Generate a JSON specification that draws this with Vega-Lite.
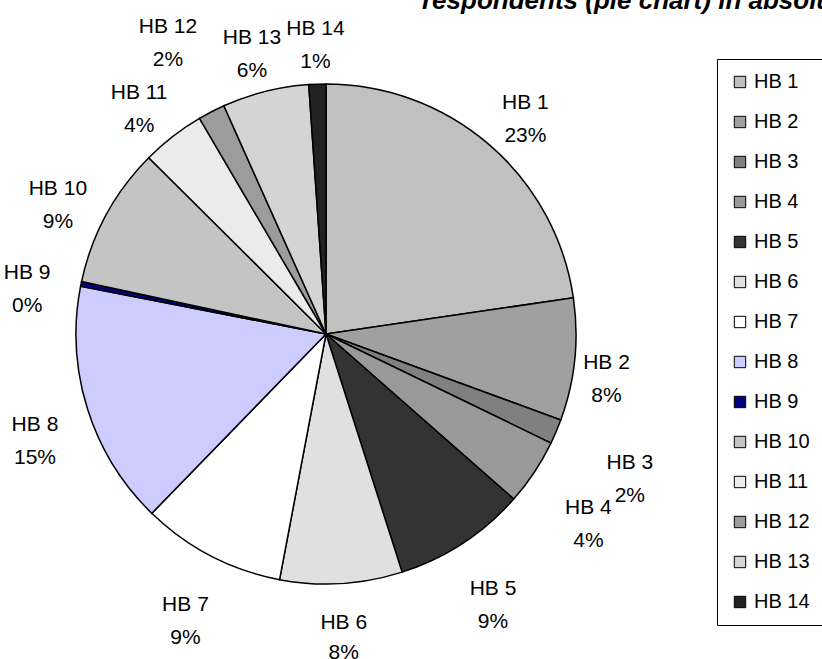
{
  "$schema": "https://vega.github.io/schema/vega-lite/v6.json",
  "autosize": {"type": "none"},
  "width": 652,
  "height": 650,
  "padding": {"left": 0, "top": 9, "right": 170, "bottom": 0},
  "background": "white",
  "title": {
    "text": "respondents (pie chart) in absolute numbers",
    "anchor": "start",
    "frame": "group",
    "dx": 422,
    "dy": 57,
    "offset": 0,
    "baseline": "alphabetic",
    "font": "Liberation Sans",
    "fontSize": 26,
    "fontStyle": "italic",
    "fontWeight": "bold",
    "color": "black",
    "limit": 1000
  },
  "data": {
    "values": [
      {"i": 1, "cat": "HB 1", "v": 22.7, "label": "HB 1\n23%"},
      {"i": 2, "cat": "HB 2", "v": 7.9, "label": "HB 2\n8%"},
      {"i": 3, "cat": "HB 3", "v": 1.6, "label": "HB 3\n2%"},
      {"i": 4, "cat": "HB 4", "v": 4.3, "label": "HB 4\n4%"},
      {"i": 5, "cat": "HB 5", "v": 8.6, "label": "HB 5\n9%"},
      {"i": 6, "cat": "HB 6", "v": 7.9, "label": "HB 6\n8%"},
      {"i": 7, "cat": "HB 7", "v": 9.3, "label": "HB 7\n9%"},
      {"i": 8, "cat": "HB 8", "v": 15.8, "label": "HB 8\n15%"},
      {"i": 9, "cat": "HB 9", "v": 0.3, "label": "HB 9\n0%"},
      {"i": 10, "cat": "HB 10", "v": 9.1, "label": "HB 10\n9%"},
      {"i": 11, "cat": "HB 11", "v": 4.1, "label": "HB 11\n4%"},
      {"i": 12, "cat": "HB 12", "v": 1.75, "label": "HB 12\n2%"},
      {"i": 13, "cat": "HB 13", "v": 5.6, "label": "HB 13\n6%"},
      {"i": 14, "cat": "HB 14", "v": 1.1, "label": "HB 14\n1%"}
    ]
  },
  "encoding": {
    "theta": {"field": "v", "type": "quantitative", "stack": true},
    "order": {"field": "i", "type": "quantitative"}
  },
  "layer": [
    {
      "mark": {"type": "arc", "outerRadius": 250, "stroke": "black", "strokeWidth": 1.5},
      "encoding": {
        "color": {
          "field": "cat",
          "type": "nominal",
          "sort": ["HB 1", "HB 2", "HB 3", "HB 4", "HB 5", "HB 6", "HB 7", "HB 8", "HB 9", "HB 10", "HB 11", "HB 12", "HB 13", "HB 14"],
          "scale": {
            "domain": ["HB 1", "HB 2", "HB 3", "HB 4", "HB 5", "HB 6", "HB 7", "HB 8", "HB 9", "HB 10", "HB 11", "HB 12", "HB 13", "HB 14"],
            "range": ["#c0c0c0", "#a0a0a0", "#808080", "#999999", "#333333", "#e0e0e0", "#ffffff", "#ccccff", "#000080", "#c4c4c4", "#ebebeb", "#9c9c9c", "#d4d4d4", "#222222"]
          },
          "legend": {
            "title": null,
            "orient": "none",
            "legendX": 717,
            "legendY": 50,
            "padding": 13,
            "strokeColor": "black",
            "fillColor": "white",
            "symbolType": "square",
            "symbolSize": 130,
            "symbolStrokeColor": "black",
            "symbolStrokeWidth": 1,
            "symbolOpacity": 1,
            "labelFont": "Liberation Sans",
            "labelFontSize": 20,
            "labelColor": "black",
            "labelOffset": 4,
            "rowPadding": 20,
            "labelLimit": 200
          }
        }
      }
    },
    {
      "mark": {"type": "text", "radius": 305, "font": "Liberation Sans", "fontSize": 21, "lineHeight": 33, "lineBreak": "\n", "align": "center", "baseline": "middle", "color": "black"},
      "encoding": {
        "text": {"condition": {"test": "indexof(['HB 2','HB 3','HB 4','HB 6','HB 12'], datum.cat) < 0", "field": "label", "type": "nominal"}, "value": ""}
      }
    },
    {
      "mark": {"type": "text", "radius": 282, "font": "Liberation Sans", "fontSize": 21, "lineHeight": 33, "lineBreak": "\n", "align": "center", "baseline": "middle", "color": "black"},
      "encoding": {
        "text": {"condition": {"test": "datum.cat === 'HB 2'", "field": "label", "type": "nominal"}, "value": ""}
      }
    },
    {
      "mark": {"type": "text", "radius": 330, "font": "Liberation Sans", "fontSize": 21, "lineHeight": 33, "lineBreak": "\n", "align": "center", "baseline": "middle", "color": "black"},
      "encoding": {
        "text": {"condition": {"test": "datum.cat === 'HB 3'", "field": "label", "type": "nominal"}, "value": ""}
      }
    },
    {
      "mark": {"type": "text", "radius": 315, "font": "Liberation Sans", "fontSize": 21, "lineHeight": 33, "lineBreak": "\n", "align": "center", "baseline": "middle", "color": "black"},
      "encoding": {
        "text": {"condition": {"test": "datum.cat === 'HB 4'", "field": "label", "type": "nominal"}, "value": ""}
      }
    },
    {
      "mark": {"type": "text", "radius": 290, "font": "Liberation Sans", "fontSize": 21, "lineHeight": 30, "lineBreak": "\n", "align": "center", "baseline": "middle", "color": "black"},
      "encoding": {
        "text": {"condition": {"test": "datum.cat === 'HB 6'", "field": "label", "type": "nominal"}, "value": ""}
      }
    },
    {
      "mark": {"type": "text", "radius": 345, "font": "Liberation Sans", "fontSize": 21, "lineHeight": 33, "lineBreak": "\n", "align": "center", "baseline": "middle", "color": "black"},
      "encoding": {
        "text": {"condition": {"test": "datum.cat === 'HB 12'", "field": "label", "type": "nominal"}, "value": ""}
      }
    }
  ]
}
